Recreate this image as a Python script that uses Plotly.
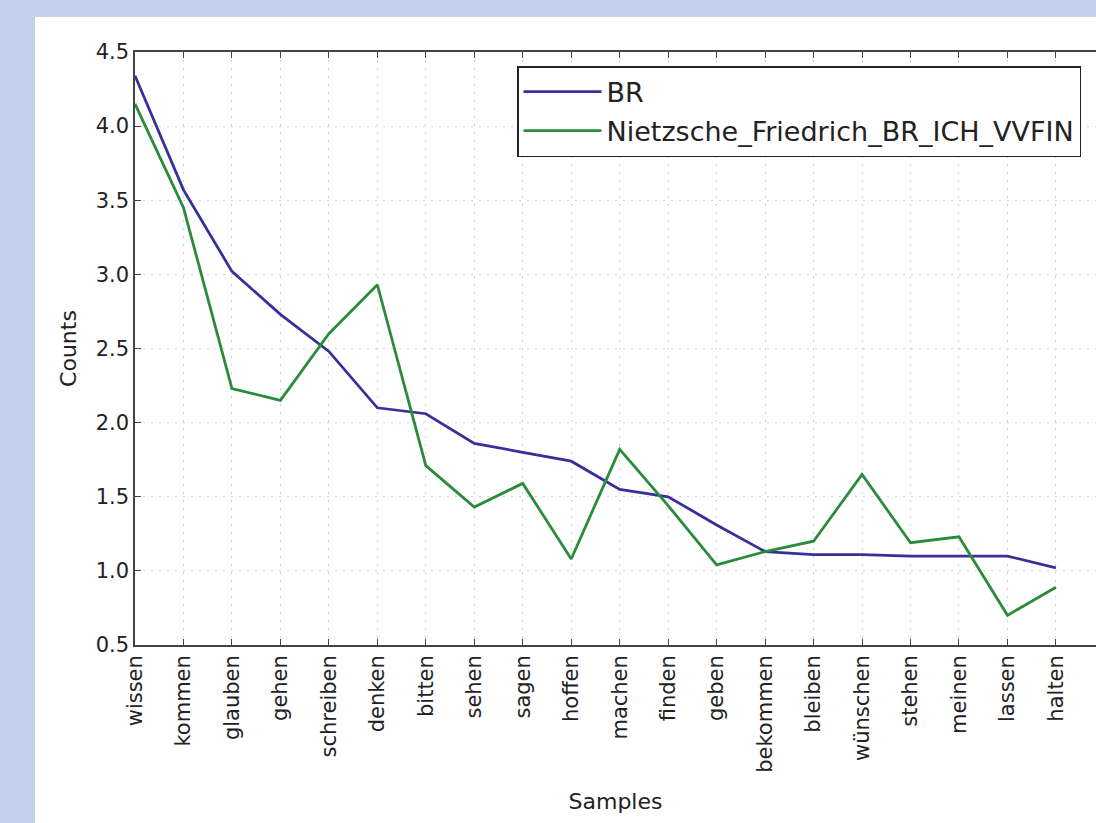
import plotly.graph_objects as go

samples = ["wissen", "kommen", "glauben", "gehen", "schreiben", "denken", "bitten",
           "sehen", "sagen", "hoffen", "machen", "finden", "geben", "bekommen",
           "bleiben", "wünschen", "stehen", "meinen", "lassen", "halten"]

br_counts = [4.34, 3.57, 3.02, 2.73, 2.48, 2.10, 2.06, 1.86, 1.80, 1.74,
             1.55, 1.50, 1.31, 1.13, 1.11, 1.11, 1.10, 1.10, 1.10, 1.02]

nietzsche_counts = [4.15, 3.45, 2.23, 2.15, 2.60, 2.93, 1.71, 1.43, 1.59, 1.08,
                    1.82, 1.44, 1.04, 1.13, 1.20, 1.65, 1.19, 1.23, 0.70, 0.89]

y_ticks = [0.5, 1.0, 1.5, 2.0, 2.5, 3.0, 3.5, 4.0, 4.5]

W, H = 1096, 823
L, T, B = 135, 52, 178
PW, PH = W - L, H - T - B
font = "DejaVu Sans, Verdana, sans-serif"
x_idx = list(range(len(samples)))

fig = go.Figure()
fig.add_trace(go.Scatter(x=x_idx, y=br_counts, mode="lines", name="BR",
                         legendgroup="a",
                         line=dict(color="#38309a", width=2.8)))
fig.add_trace(go.Scatter(x=x_idx, y=nietzsche_counts, mode="lines",
                         name="Nietzsche_Friedrich_BR_ICH_VVFIN", legendgroup="b",
                         line=dict(color="#2a8c3a", width=2.8)))

# white canvas inside the light blue frame (top and left strips stay blue)
fig.add_shape(type="rect", xref="paper", yref="paper",
              x0=(35 - L) / PW, x1=1.05, y0=-(B + 10) / PH,
              y1=1 + (T - 17) / PH, fillcolor="white", line_width=0, layer="below")

axis_common = dict(
    ticks="inside", ticklen=6, tickcolor="#444444", tickwidth=1.2,
    showline=True, linecolor="#444444", linewidth=1.5,
    showgrid=True, gridcolor="#d2d2d2", griddash="2px,6px", gridwidth=1.2,
    zeroline=False, tickfont=dict(size=21, color="#222222"),
)

fig.update_layout(
    width=W, height=H,
    margin=dict(l=L, r=0, t=T, b=B, pad=0),
    paper_bgcolor="#c5d1ea",
    plot_bgcolor="white",
    font=dict(family=font, size=21, color="#222222"),
    showlegend=True,
    legend=dict(x=(517 - L) / PW, y=1 - (66 - T) / PH,
                xanchor="left", yanchor="top",
                bgcolor="white", bordercolor="#222222", borderwidth=1.5,
                font=dict(size=27, family=font, color="#222222"),
                itemwidth=78, tracegroupgap=1),
    xaxis=dict(
        range=[0, PW / 48.47], tickmode="array", tickvals=x_idx, ticktext=samples,
        tickangle=-90, mirror="ticks",
        title=dict(text="Samples", font=dict(size=22), standoff=22),
        **axis_common,
    ),
    yaxis=dict(
        range=[0.5, 4.5], tickmode="array", tickvals=y_ticks,
        ticktext=[f"{v:.1f}" for v in y_ticks], mirror=False,
        title=dict(text="Counts", font=dict(size=22), standoff=13),
        **axis_common,
    ),
)

fig.write_html("out.html")
